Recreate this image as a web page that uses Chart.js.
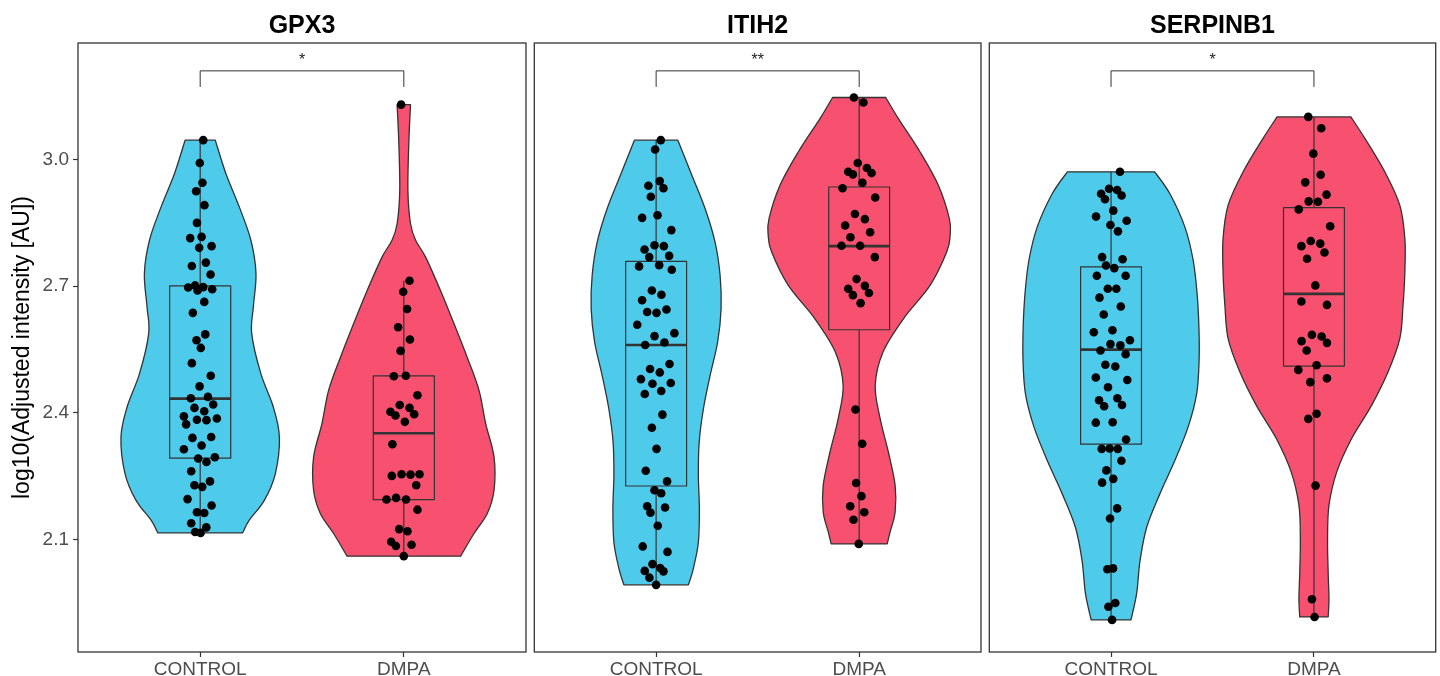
<!DOCTYPE html>
<html lang="en">
<head>
<meta charset="UTF-8">
<title>Violin plots: GPX3, ITIH2, SERPINB1</title>
<script src="https://cdn.jsdelivr.net/npm/chart.js"></script>
<style>
  body { margin: 0; background: #fff; width: 1440px; height: 676px; overflow: hidden; position: relative; }
  canvas { position: absolute; top: 0; }
</style>
</head>
<body>
<canvas id="c1" width="604" height="676" style="left:0px"></canvas>
<canvas id="c2" width="456" height="676" style="left:530px"></canvas>
<canvas id="c3" width="455" height="676" style="left:985px"></canvas>

<script>
  const groups = ['CONTROL', 'DMPA'];
  const yTicks = [2.1, 2.4, 2.7, 3.0];
  const yMin = 1.834, yMax = 3.276;
  const bracketY = 3.21, bracketFoot = 3.172;
  const ctrlColor = '#4ECBEB', dmpaColor = '#F8516F';

  // ---- GPX3 ----
  const gpx3CtrlY = [3.046, 2.992, 2.945, 2.925, 2.892, 2.850, 2.814, 2.817, 2.791, 2.795, 2.748, 2.756, 2.728, 2.697, 2.702, 2.690, 2.698, 2.693, 2.663, 2.637, 2.586, 2.572, 2.554, 2.518, 2.488, 2.463, 2.435, 2.438, 2.420, 2.412, 2.404, 2.392, 2.384, 2.383, 2.387, 2.373, 2.341, 2.323, 2.343, 2.314, 2.292, 2.284, 2.295, 2.262, 2.238, 2.229, 2.225, 2.196, 2.181, 2.165, 2.163, 2.139, 2.129, 2.118, 2.116];
  const gpx3CtrlDx = [0.015, -0.002, 0.011, -0.020, 0.021, -0.016, -0.049, 0.007, -0.005, 0.056, -0.041, 0.028, 0.051, -0.059, -0.025, -0.013, 0.015, 0.059, 0.020, -0.036, 0.025, -0.018, 0.003, -0.041, 0.052, -0.003, -0.046, 0.038, 0.064, -0.028, 0.020, -0.080, -0.016, 0.031, 0.082, -0.069, -0.038, 0.007, 0.054, -0.080, -0.010, 0.031, 0.072, -0.044, 0.048, -0.028, 0.010, -0.062, 0.056, -0.016, 0.020, -0.044, 0.030, -0.025, 0.002];
  const gpx3DmpaY = [3.130, 2.713, 2.687, 2.646, 2.603, 2.574, 2.547, 2.487, 2.488, 2.442, 2.419, 2.412, 2.403, 2.394, 2.397, 2.379, 2.326, 2.251, 2.255, 2.254, 2.255, 2.229, 2.195, 2.199, 2.195, 2.171, 2.125, 2.120, 2.095, 2.085, 2.088, 2.061];
  const gpx3DmpaDx = [-0.013, 0.028, -0.003, 0.016, -0.028, 0.030, -0.016, -0.049, 0.010, 0.067, -0.020, 0.028, -0.066, -0.041, 0.051, 0.005, -0.056, -0.059, -0.011, 0.033, 0.077, 0.061, -0.085, -0.038, 0.011, 0.067, -0.023, 0.018, -0.062, -0.039, 0.038, 0.000];
  const gpx3CtrlVioY = [3.046, 2.967, 2.888, 2.809, 2.730, 2.651, 2.588, 2.493, 2.414, 2.343, 2.256, 2.193, 2.146, 2.116];
  const gpx3CtrlVioW = [0.074, 0.126, 0.192, 0.249, 0.274, 0.261, 0.253, 0.298, 0.359, 0.389, 0.369, 0.315, 0.241, 0.208];
  const gpx3DmpaVioY = [3.130, 3.046, 2.927, 2.848, 2.809, 2.769, 2.690, 2.612, 2.532, 2.454, 2.375, 2.296, 2.217, 2.162, 2.114, 2.061];
  const gpx3DmpaVioW = [0.033, 0.025, 0.020, 0.033, 0.058, 0.107, 0.180, 0.246, 0.311, 0.369, 0.402, 0.443, 0.443, 0.410, 0.344, 0.279];
  const gpx3CtrlBox = [2.116, 2.293, 2.434, 2.701, 3.046];   // min, q1, median, q3, max
  const gpx3DmpaBox = [2.061, 2.195, 2.352, 2.488, 2.713];

  // ---- ITIH2 ----
  const itih2CtrlY = [3.046, 3.024, 2.949, 2.938, 2.932, 2.912, 2.868, 2.862, 2.833, 2.797, 2.795, 2.787, 2.769, 2.772, 2.747, 2.750, 2.739, 2.690, 2.680, 2.667, 2.639, 2.637, 2.645, 2.609, 2.582, 2.589, 2.561, 2.567, 2.516, 2.504, 2.496, 2.480, 2.469, 2.471, 2.445, 2.452, 2.396, 2.365, 2.315, 2.263, 2.238, 2.217, 2.210, 2.179, 2.176, 2.164, 2.133, 2.084, 2.071, 2.042, 2.033, 2.026, 2.025, 2.010, 1.993];
  const itih2CtrlDx = [0.023, -0.005, 0.018, -0.038, 0.036, -0.026, 0.007, -0.069, 0.075, -0.008, 0.038, -0.057, -0.034, 0.064, -0.084, 0.015, 0.077, -0.021, 0.026, -0.069, -0.044, 0.002, 0.051, -0.093, -0.008, 0.090, -0.054, 0.041, 0.066, -0.030, 0.018, -0.075, -0.018, 0.072, -0.056, 0.025, 0.031, -0.021, 0.002, -0.051, 0.054, -0.008, 0.025, -0.044, 0.044, -0.028, 0.008, -0.066, 0.056, -0.018, 0.020, -0.056, 0.036, -0.033, 0.000];
  const itih2DmpaY = [3.147, 3.135, 2.992, 2.980, 2.971, 2.965, 2.968, 2.945, 2.932, 2.910, 2.871, 2.859, 2.844, 2.828, 2.816, 2.796, 2.796, 2.769, 2.717, 2.694, 2.701, 2.679, 2.684, 2.660, 2.408, 2.327, 2.234, 2.203, 2.179, 2.165, 2.147, 2.090];
  const itih2DmpaDx = [-0.026, 0.021, -0.007, 0.038, -0.054, -0.031, 0.061, 0.016, -0.082, 0.079, -0.021, 0.028, -0.069, 0.054, -0.043, -0.087, 0.005, 0.077, -0.013, -0.054, 0.028, -0.031, 0.048, 0.007, -0.018, 0.015, -0.015, 0.011, -0.044, 0.025, -0.028, -0.002];
  const itih2CtrlVioY = [3.046, 2.963, 2.884, 2.805, 2.726, 2.647, 2.568, 2.489, 2.410, 2.331, 2.252, 2.173, 2.094, 2.031, 1.993];
  const itih2CtrlVioW = [0.107, 0.176, 0.241, 0.290, 0.315, 0.320, 0.303, 0.266, 0.233, 0.212, 0.208, 0.213, 0.208, 0.183, 0.159];
  const itih2DmpaVioY = [3.147, 3.097, 3.018, 2.939, 2.860, 2.821, 2.781, 2.702, 2.623, 2.544, 2.465, 2.387, 2.307, 2.229, 2.165, 2.118, 2.090];
  const itih2DmpaVioW = [0.131, 0.193, 0.300, 0.390, 0.444, 0.448, 0.431, 0.349, 0.218, 0.117, 0.079, 0.103, 0.144, 0.177, 0.177, 0.152, 0.138];
  const itih2CtrlBox = [1.993, 2.227, 2.561, 2.759, 3.046];
  const itih2DmpaBox = [2.090, 2.597, 2.795, 2.935, 3.147];

  // ---- SERPINB1 ----
  const serpCtrlY = [2.971, 2.931, 2.928, 2.919, 2.915, 2.906, 2.879, 2.865, 2.855, 2.845, 2.830, 2.769, 2.764, 2.749, 2.743, 2.725, 2.725, 2.694, 2.694, 2.673, 2.652, 2.633, 2.591, 2.596, 2.563, 2.560, 2.572, 2.548, 2.539, 2.514, 2.510, 2.484, 2.478, 2.461, 2.430, 2.435, 2.416, 2.419, 2.377, 2.378, 2.337, 2.315, 2.316, 2.315, 2.287, 2.264, 2.244, 2.235, 2.174, 2.150, 2.030, 2.032, 1.941, 1.950, 1.910];
  const serpCtrlDx = [0.044, -0.010, 0.030, -0.049, 0.052, -0.030, 0.011, -0.074, 0.077, -0.003, 0.034, -0.044, 0.057, -0.025, 0.016, -0.070, 0.072, -0.016, 0.026, -0.057, 0.048, -0.036, -0.085, 0.007, -0.003, 0.046, 0.093, -0.052, 0.072, -0.028, 0.021, -0.075, 0.080, -0.015, -0.059, 0.031, -0.034, 0.054, -0.075, 0.008, 0.074, -0.046, -0.007, 0.033, 0.051, -0.023, 0.011, -0.044, 0.030, -0.005, -0.018, 0.010, -0.013, 0.021, 0.005];
  const serpDmpaY = [3.101, 3.074, 3.014, 2.964, 2.946, 2.917, 2.901, 2.900, 2.882, 2.842, 2.795, 2.807, 2.801, 2.780, 2.765, 2.702, 2.664, 2.656, 2.585, 2.581, 2.570, 2.566, 2.548, 2.513, 2.502, 2.482, 2.473, 2.398, 2.386, 2.228, 1.959, 1.917];
  const serpDmpaDx = [-0.028, 0.036, -0.003, 0.033, -0.043, 0.062, -0.026, 0.020, -0.075, 0.080, -0.062, -0.016, 0.031, 0.052, -0.034, 0.007, -0.062, 0.064, -0.010, 0.038, -0.061, 0.064, -0.036, 0.013, -0.077, 0.064, -0.018, 0.013, -0.028, 0.008, -0.010, 0.003];
  const serpCtrlVioY = [2.971, 2.919, 2.840, 2.761, 2.683, 2.604, 2.525, 2.446, 2.367, 2.288, 2.209, 2.130, 2.051, 1.972, 1.910];
  const serpCtrlVioW = [0.215, 0.290, 0.364, 0.405, 0.424, 0.433, 0.434, 0.422, 0.380, 0.315, 0.241, 0.176, 0.143, 0.126, 0.098];
  const serpDmpaVioY = [3.101, 3.050, 2.971, 2.892, 2.813, 2.734, 2.655, 2.576, 2.497, 2.418, 2.339, 2.260, 2.181, 2.102, 2.023, 1.960, 1.917];
  const serpDmpaVioW = [0.182, 0.251, 0.349, 0.423, 0.448, 0.448, 0.439, 0.423, 0.365, 0.284, 0.185, 0.112, 0.074, 0.067, 0.070, 0.074, 0.070];
  const serpCtrlBox = [1.910, 2.326, 2.550, 2.746, 2.971];
  const serpDmpaBox = [1.917, 2.511, 2.682, 2.886, 3.101];

  const panels = [
    { id: 'c1', title: 'GPX3', sig: '*', yAxis: true, pad: { left: 0, right: 78 },
      groups: [
        { ys: gpx3CtrlY, dx: gpx3CtrlDx, vioY: gpx3CtrlVioY, vioW: gpx3CtrlVioW, box: gpx3CtrlBox, color: ctrlColor },
        { ys: gpx3DmpaY, dx: gpx3DmpaDx, vioY: gpx3DmpaVioY, vioW: gpx3DmpaVioW, box: gpx3DmpaBox, color: dmpaColor }] },
    { id: 'c2', title: 'ITIH2', sig: '**', yAxis: false, pad: { left: 4, right: 5 },
      groups: [
        { ys: itih2CtrlY, dx: itih2CtrlDx, vioY: itih2CtrlVioY, vioW: itih2CtrlVioW, box: itih2CtrlBox, color: ctrlColor },
        { ys: itih2DmpaY, dx: itih2DmpaDx, vioY: itih2DmpaVioY, vioW: itih2DmpaVioW, box: itih2DmpaBox, color: dmpaColor }] },
    { id: 'c3', title: 'SERPINB1', sig: '*', yAxis: false, pad: { left: 4, right: 4 },
      groups: [
        { ys: serpCtrlY, dx: serpCtrlDx, vioY: serpCtrlVioY, vioW: serpCtrlVioW, box: serpCtrlBox, color: ctrlColor },
        { ys: serpDmpaY, dx: serpDmpaDx, vioY: serpDmpaVioY, vioW: serpDmpaVioW, box: serpDmpaBox, color: dmpaColor }] }
  ];

  Chart.defaults.font.family = '"Liberation Sans", Arial, Helvetica, sans-serif';

  // catmull-rom through the points, current point must be pts[0]
  function spline(ctx, pts) {
    const n = pts.length;
    for (let i = 0; i < n - 1; i++) {
      const p0 = pts[Math.max(i - 1, 0)], p1 = pts[i], p2 = pts[i + 1], p3 = pts[Math.min(i + 2, n - 1)];
      ctx.bezierCurveTo(
        p1.x + (p2.x - p0.x) / 6, p1.y + (p2.y - p0.y) / 6,
        p2.x - (p3.x - p1.x) / 6, p2.y - (p3.y - p1.y) / 6,
        p2.x, p2.y);
    }
  }

  function panelPlugin(p) {
    return {
      id: 'panel' + p.id,
      beforeDatasetsDraw(chart) {
        const { ctx, chartArea: a, scales: { x, y } } = chart;
        ctx.save();
        ctx.beginPath();
        ctx.rect(a.left, a.top, a.right - a.left, a.bottom - a.top);
        ctx.clip();
        ctx.strokeStyle = '#333';
        ctx.lineJoin = 'round';
        p.groups.forEach((g, i) => {
          const c = i + 1;
          const right = g.vioY.map((v, k) => ({ x: x.getPixelForValue(c + g.vioW[k]), y: y.getPixelForValue(v) }));
          const left = g.vioY.map((v, k) => ({ x: x.getPixelForValue(c - g.vioW[k]), y: y.getPixelForValue(v) })).reverse();
          ctx.beginPath();
          ctx.moveTo(left[left.length - 1].x, left[left.length - 1].y);
          ctx.lineTo(right[0].x, right[0].y);
          spline(ctx, right);
          ctx.lineTo(left[0].x, left[0].y);
          spline(ctx, left);
          ctx.closePath();
          ctx.fillStyle = g.color;
          ctx.fill();
          ctx.lineWidth = 1.3;
          ctx.stroke();

          const [mn, q1, md, q3, mx] = g.box;
          const xl = x.getPixelForValue(c - 0.15), xr = x.getPixelForValue(c + 0.15), xc = x.getPixelForValue(c);
          ctx.lineWidth = 1.2;
          ctx.beginPath();
          ctx.moveTo(xc, y.getPixelForValue(q3)); ctx.lineTo(xc, y.getPixelForValue(mx));
          ctx.moveTo(xc, y.getPixelForValue(q1)); ctx.lineTo(xc, y.getPixelForValue(mn));
          ctx.stroke();
          ctx.strokeRect(xl, y.getPixelForValue(q3), xr - xl, y.getPixelForValue(q1) - y.getPixelForValue(q3));
          ctx.lineWidth = 2.6;
          ctx.beginPath();
          ctx.moveTo(xl, y.getPixelForValue(md)); ctx.lineTo(xr, y.getPixelForValue(md));
          ctx.stroke();
        });
        ctx.restore();
      },
      afterDraw(chart) {
        const { ctx, chartArea: a, scales: { x, y } } = chart;
        ctx.save();
        // panel border
        ctx.strokeStyle = '#333';
        ctx.lineWidth = 1.3;
        ctx.strokeRect(a.left, a.top, a.right - a.left, a.bottom - a.top);
        // significance bracket
        const x1 = x.getPixelForValue(1), x2 = x.getPixelForValue(2);
        const yb = y.getPixelForValue(bracketY), yf = y.getPixelForValue(bracketFoot);
        ctx.lineWidth = 1;
        ctx.beginPath();
        ctx.moveTo(x1, yf); ctx.lineTo(x1, yb); ctx.lineTo(x2, yb); ctx.lineTo(x2, yf);
        ctx.stroke();
        ctx.fillStyle = '#222';
        ctx.font = '16px "Liberation Sans", Arial, sans-serif';
        ctx.textAlign = 'center';
        ctx.textBaseline = 'alphabetic';
        ctx.fillText(p.sig, (x1 + x2) / 2, yb - 6);
        // facet title
        ctx.fillStyle = '#000';
        ctx.font = 'bold 25px "Liberation Sans", Arial, sans-serif';
        ctx.textBaseline = 'middle';
        ctx.fillText(p.title, (a.left + a.right) / 2, a.top - 17);
        ctx.restore();
      }
    };
  }

  panels.forEach(p => {
    const datasets = p.groups.map((g, i) => ({
      type: 'scatter',
      data: g.ys.map((v, k) => ({ x: i + 1 + g.dx[k], y: v })),
      pointRadius: 4.3,
      pointHoverRadius: 4.3,
      backgroundColor: '#000',
      borderWidth: 0
    }));

    new Chart(document.getElementById(p.id), {
      type: 'scatter',
      data: { datasets },
      options: {
        responsive: false,
        animation: false,
        events: [],
        layout: { padding: { top: 43, bottom: 0, left: p.pad.left, right: p.pad.right } },
        plugins: { legend: { display: false }, tooltip: { enabled: false } },
        scales: {
          x: {
            type: 'linear', min: 0.4, max: 2.6,
            afterBuildTicks: s => { s.ticks = [{ value: 1 }, { value: 2 }]; },
            afterFit: s => { s.height = 24; },
            ticks: { callback: v => groups[Math.round(v) - 1], color: '#4d4d4d', font: { size: 19 }, padding: 1, maxRotation: 0 },
            grid: { drawOnChartArea: false, tickLength: 5, color: '#333', tickWidth: 1.2 },
            border: { display: false }
          },
          y: {
            display: p.yAxis,
            min: yMin, max: yMax,
            afterBuildTicks: s => { s.ticks = yTicks.map(v => ({ value: v })); },
            afterFit: s => { s.width = p.yAxis ? 78 : 0; },
            ticks: { callback: v => v.toFixed(1), color: '#4d4d4d', font: { size: 19 }, padding: 4 },
            grid: { drawOnChartArea: false, tickLength: 5, color: '#333', tickWidth: 1.2 },
            border: { display: false },
            title: { display: true, text: 'log10(Adjusted intensity [AU])', color: '#000', font: { size: 23 }, padding: { top: 9, bottom: 0 } }
          }
        }
      },
      plugins: [panelPlugin(p)]
    });
  });
</script>
</body>
</html>
